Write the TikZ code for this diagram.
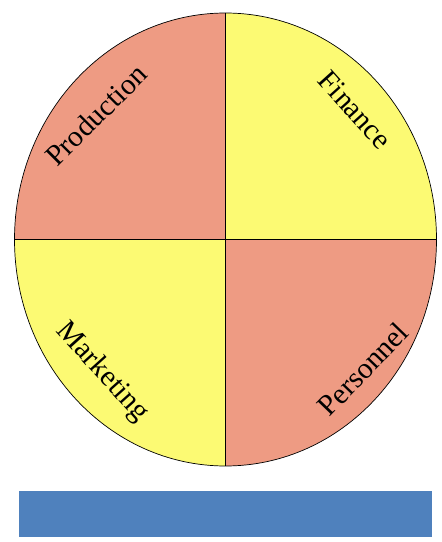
\documentclass[tikz,border=0pt]{standalone}
\usepackage{fontspec}
\setmainfont{Liberation Serif}
\definecolor{salmon}{RGB}{238,155,131}
\definecolor{lemon}{RGB}{252,250,115}
\definecolor{steel}{RGB}{79,129,189}
\begin{document}
\begin{tikzpicture}[x=1pt,y=1pt,
  lbl/.style={font=\fontsize{29.5}{35}\selectfont, inner sep=0pt, text=black},
  edge/.style={draw=black, line width=0.7pt}]
\useasboundingbox (0,0) rectangle (442,542);
\coordinate (c) at (225.5,302.5);
% quadrants
\fill[salmon] (c) -- ++(0,226.5pt) arc[start angle=90,end angle=180,x radius=211pt,y radius=226.5pt] -- cycle;
\fill[lemon] (c) -- ++(211pt,0) arc[start angle=0,end angle=90,x radius=211pt,y radius=226.5pt] -- cycle;
\fill[lemon] (c) -- ++(-211pt,0) arc[start angle=180,end angle=270,x radius=211pt,y radius=226.5pt] -- cycle;
\fill[salmon] (c) -- ++(0,-226.5pt) arc[start angle=270,end angle=360,x radius=211pt,y radius=226.5pt] -- cycle;
% outline and dividers
\draw[edge] (c) ellipse[x radius=211pt,y radius=226.5pt];
\draw[edge] ([yshift=226.5pt]c) -- ([yshift=-226.5pt]c);
\draw[edge] ([xshift=-211pt]c) -- ([xshift=211pt]c);
% labels
\node[lbl, rotate=45] (prod) at (96,427) {Production};
\node[lbl, rotate=-48] (fin) at (355,432) {Finance};
\node[lbl, rotate=-48] (mkt) at (102,170) {Marketing};
\node[lbl, rotate=46] (pers) at (363,173) {Personnel};
% bottom bar
\fill[steel] (19,5) rectangle (432,51);
\end{tikzpicture}
\end{document}
